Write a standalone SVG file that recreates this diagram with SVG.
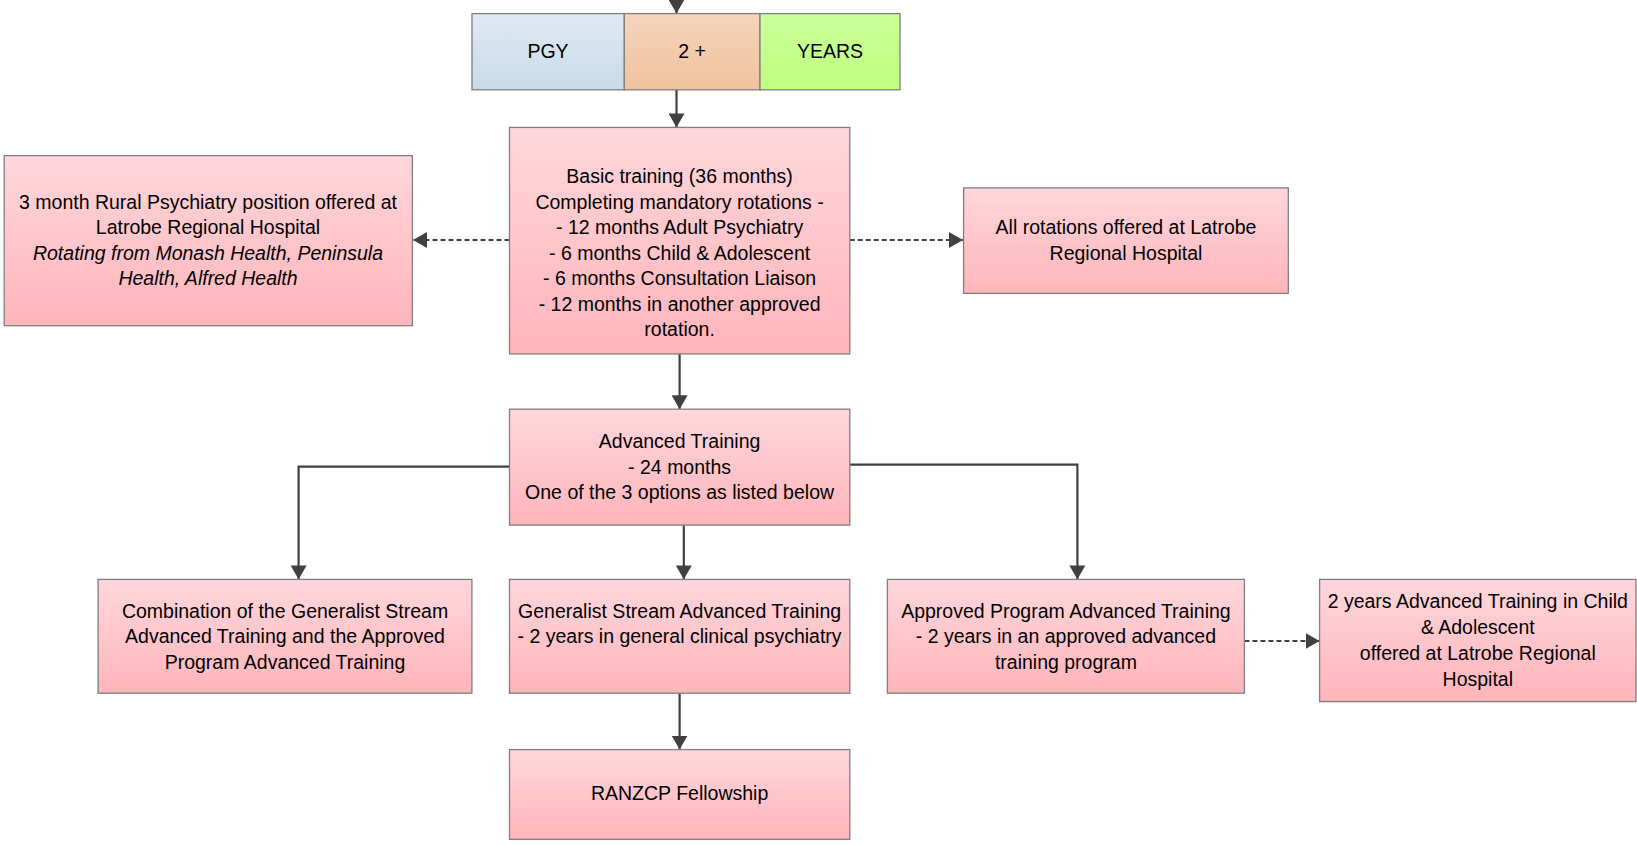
<svg xmlns="http://www.w3.org/2000/svg" width="1637" height="845" viewBox="0 0 1637 845">
<defs>
<linearGradient id="pink" x1="0" y1="0" x2="0" y2="1"><stop offset="0" stop-color="#ffd7dc"/><stop offset="1" stop-color="#ffb5bb"/></linearGradient>
<linearGradient id="blue" x1="0" y1="0" x2="0" y2="1"><stop offset="0" stop-color="#dfe9f3"/><stop offset="1" stop-color="#c9daea"/></linearGradient>
<linearGradient id="orange" x1="0" y1="0" x2="0" y2="1"><stop offset="0" stop-color="#f5d5bd"/><stop offset="1" stop-color="#f0c29c"/></linearGradient>
<linearGradient id="green" x1="0" y1="0" x2="0" y2="1"><stop offset="0" stop-color="#ccff99"/><stop offset="1" stop-color="#bfff7f"/></linearGradient>
<marker id="arr" viewBox="0 0 14 16" refX="14" refY="8" markerWidth="14" markerHeight="16" markerUnits="userSpaceOnUse" orient="auto"><path d="M0,0 L14,8 L0,16 Z" fill="#404040"/></marker>
</defs>
<style>
.box{stroke:#7f7f7f;stroke-width:1.3;fill:url(#pink)}
.t{font-family:"Liberation Sans",Arial,sans-serif;font-size:19.5px;fill:#000;text-anchor:middle}
.i{font-style:italic}
.c{fill:none;stroke:#404040;stroke-width:2.2}
.d{fill:none;stroke:#404040;stroke-width:2.2;stroke-dasharray:5,3}
</style>
<g id="connectors">
<line class="c" x1="676.5" y1="0" x2="676.5" y2="13.6" marker-end="url(#arr)"/>
<line class="c" x1="676.5" y1="89.8" x2="676.5" y2="127.4" marker-end="url(#arr)"/>
<line class="d" x1="509.5" y1="240" x2="413" y2="240" marker-end="url(#arr)"/>
<line class="d" x1="849.8" y1="240" x2="963" y2="240" marker-end="url(#arr)"/>
<line class="c" x1="679.6" y1="353.9" x2="679.6" y2="409.2" marker-end="url(#arr)"/>
<polyline class="c" points="509.5,466.7 298.6,466.7 298.6,579.4" marker-end="url(#arr)"/>
<polyline class="c" points="849.8,464.6 1077.4,464.6 1077.4,579.4" marker-end="url(#arr)"/>
<line class="c" x1="683.8" y1="525.1" x2="683.8" y2="579.4" marker-end="url(#arr)"/>
<line class="d" x1="1244.4" y1="641" x2="1319.6" y2="641" marker-end="url(#arr)"/>
<line class="c" x1="679.6" y1="693.2" x2="679.6" y2="749.6" marker-end="url(#arr)"/>
</g>
<g id="pgy">
<rect x="472" y="13.6" width="152.3" height="76.2" fill="url(#blue)" stroke="#7f7f7f" stroke-width="1.3"/>
<text class="t" x="548" y="58.2">PGY</text>
</g>
<g id="two">
<rect x="624.3" y="13.6" width="135.7" height="76.2" fill="url(#orange)" stroke="#7f7f7f" stroke-width="1.3"/>
<text class="t" x="692" y="58.2">2 +</text>
</g>
<g id="years">
<rect x="760" y="13.6" width="140" height="76.2" fill="url(#green)" stroke="#7f7f7f" stroke-width="1.3"/>
<text class="t" x="830" y="58.2">YEARS</text>
</g>
<g id="basic">
<rect class="box" x="509.5" y="127.4" width="340.3" height="226.5"/>
<text class="t" x="679.6" y="183.4">Basic training (36 months)</text>
<text class="t" x="679.6" y="208.5">Completing mandatory rotations -</text>
<text class="t" x="679.6" y="233.5">- 12 months Adult Psychiatry</text>
<text class="t" x="679.6" y="259.6">- 6 months Child &amp; Adolescent</text>
<text class="t" x="679.6" y="284.7">- 6 months Consultation Liaison</text>
<text class="t" x="679.6" y="310.8">- 12 months in another approved</text>
<text class="t" x="679.6" y="335.9">rotation.</text>
</g>
<g id="rural">
<rect class="box" x="4.2" y="155.6" width="408.2" height="170.1"/>
<text class="t" x="208" y="208.5">3 month Rural Psychiatry position offered at</text>
<text class="t" x="208" y="233.5">Latrobe Regional Hospital</text>
<text class="t i" x="208" y="259.6">Rotating from Monash Health, Peninsula</text>
<text class="t i" x="208" y="284.7">Health, Alfred Health</text>
</g>
<g id="allrot">
<rect class="box" x="963.6" y="187.9" width="324.7" height="105.5"/>
<text class="t" x="1126" y="233.5">All rotations offered at Latrobe</text>
<text class="t" x="1126" y="259.6">Regional Hospital</text>
</g>
<g id="advanced">
<rect class="box" x="509.5" y="409.2" width="340.3" height="115.9"/>
<text class="t" x="679.6" y="447.6">Advanced Training</text>
<text class="t" x="679.6" y="473.7">- 24 months</text>
<text class="t" x="679.6" y="498.7">One of the 3 options as listed below</text>
</g>
<g id="combination">
<rect class="box" x="98.1" y="579.4" width="373.8" height="113.8"/>
<text class="t" x="285" y="617.7">Combination of the Generalist Stream</text>
<text class="t" x="285" y="642.8">Advanced Training and the Approved</text>
<text class="t" x="285" y="668.9">Program Advanced Training</text>
</g>
<g id="generalist">
<rect class="box" x="509.5" y="579.4" width="340.3" height="113.8"/>
<text class="t" x="679.6" y="617.7">Generalist Stream Advanced Training</text>
<text class="t" x="679.6" y="642.8">- 2 years in general clinical psychiatry</text>
</g>
<g id="approved">
<rect class="box" x="887.4" y="579.4" width="357" height="113.8"/>
<text class="t" x="1065.9" y="617.7">Approved Program Advanced Training</text>
<text class="t" x="1065.9" y="642.8">- 2 years in an approved advanced</text>
<text class="t" x="1065.9" y="668.9">training program</text>
</g>
<g id="child">
<rect class="box" x="1319.6" y="579.4" width="316.4" height="122.2"/>
<text class="t" x="1477.8" y="608.3">2 years Advanced Training in Child</text>
<text class="t" x="1477.8" y="634.4">&amp; Adolescent</text>
<text class="t" x="1477.8" y="659.5">offered at Latrobe Regional</text>
<text class="t" x="1477.8" y="685.6">Hospital</text>
</g>
<g id="ranzcp">
<rect class="box" x="509.5" y="749.6" width="340.3" height="89.8"/>
<text class="t" x="679.6" y="800.4">RANZCP Fellowship</text>
</g>
</svg>
